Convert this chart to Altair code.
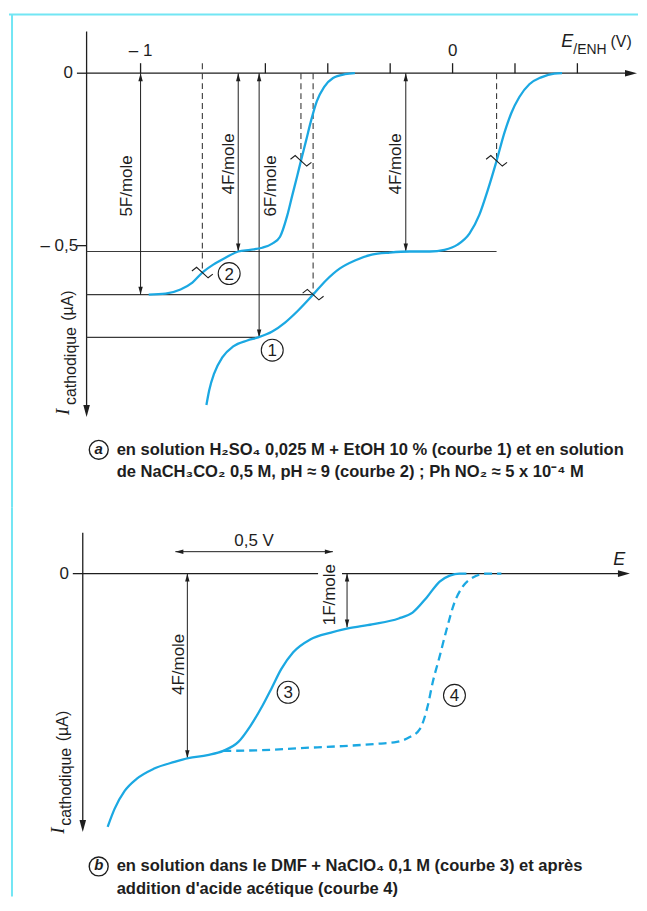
import altair as alt
import pandas as pd

# ======================= DATA =======================
# ---- Panel (a): E/ENH (V) vs cathodic current I (µA, drawn downward) ----
curve1_E = [-0.789, -0.780, -0.764, -0.738, -0.703, -0.658, -0.623, -0.578, -0.537, -0.495,
            -0.447, -0.406, -0.361, -0.313, -0.259, -0.201, -0.137, -0.073, -0.026, 0.016,
            0.054, 0.086, 0.112, 0.141, 0.166, 0.188, 0.214, 0.246, 0.284, 0.326, 0.351]
curve1_I = [-0.962, -0.919, -0.870, -0.824, -0.792, -0.775, -0.766, -0.749, -0.723, -0.688,
            -0.642, -0.601, -0.566, -0.543, -0.526, -0.520, -0.517, -0.517, -0.512, -0.497,
            -0.465, -0.410, -0.341, -0.254, -0.173, -0.116, -0.069, -0.032, -0.012, -0.001, 0.0]
curve2_E = [-0.974, -0.920, -0.872, -0.834, -0.802, -0.767, -0.728, -0.687, -0.649, -0.610,
            -0.578, -0.553, -0.530, -0.514, -0.498, -0.486, -0.470, -0.454, -0.435, -0.412,
            -0.383, -0.345, -0.313]
curve2_I = [-0.642, -0.639, -0.627, -0.607, -0.578, -0.555, -0.535, -0.517, -0.512, -0.506,
            -0.494, -0.474, -0.413, -0.355, -0.298, -0.254, -0.197, -0.139, -0.081, -0.040,
            -0.014, -0.003, 0.0]

a_axis_E = -1.173                      # position of the current axis
a_tick_E = [-1.0, -0.6, -0.4, -0.2, 0.0, 0.2, 0.4]
a_tick_labels = ["– 1", "0"]
a_tick_label_E = [-1.0, 0.0]
a_ytick_I = [0.0, -0.5]
a_ytick_labels = ["0", "– 0,5"]

a_arrow_E = [-1.0, -0.687, -0.620, -0.150]
a_arrow_I = [-0.642, -0.517, -0.766, -0.517]
a_arrow_txt = ["5F/mole", "4F/mole", "6F/mole", "4F/mole"]
a_arrow_txt_E = [-1.042, -0.716, -0.581, -0.182]
a_arrow_txt_I = [-0.327, -0.263, -0.327, -0.263]

a_half_E = [-0.802, -0.486, -0.447, 0.141]       # half-wave potentials (dashed)
a_half_I = [-0.578, -0.254, -0.642, -0.254]
a_half_top = [0.029, 0.0, 0.0, 0.0]

a_level_I = [-0.517, -0.642, -0.766]             # plateau levels
a_level_end_E = [0.141, -0.447, -0.623]

a_curve_lbl = ["2", "1"]
a_curve_lbl_E = [-0.716, -0.578]
a_curve_lbl_I = [-0.581, -0.803]

caption_a = ["en solution H₂SO₄ 0,025 M + EtOH 10 % (courbe 1) et en solution",
             "de NaCH₃CO₂ 0,5 M, pH ≈ 9 (courbe 2) ; Ph NO₂ ≈ 5 x 10⁻⁴ M"]

# ---- Panel (b): E (relative, V) vs cathodic current ----
curve3_E = [0.079, 0.101, 0.133, 0.171, 0.225, 0.291, 0.335, 0.396, 0.446, 0.494, 0.532, 0.570,
            0.598, 0.630, 0.668, 0.722, 0.788, 0.842, 0.918, 1.003, 1.047, 1.092, 1.133, 1.165,
            1.196, 1.218]
curve3_I = [-0.734, -0.682, -0.630, -0.595, -0.566, -0.546, -0.535, -0.526, -0.514, -0.488, -0.442,
            -0.384, -0.335, -0.277, -0.228, -0.191, -0.171, -0.159, -0.147, -0.130, -0.113, -0.069,
            -0.023, -0.006, 0.0, 0.0]
curve4_E = [0.446, 0.563, 0.690, 0.826, 0.927, 0.997, 1.038, 1.070, 1.095, 1.111, 1.133, 1.155,
            1.180, 1.206, 1.237, 1.282, 1.329]
curve4_I = [-0.514, -0.512, -0.506, -0.500, -0.494, -0.488, -0.474, -0.451, -0.384, -0.315,
            -0.240, -0.162, -0.084, -0.038, -0.012, 0.0, 0.0]

b_arrow_E = [0.332, 0.839]
b_arrow_I = [-0.535, -0.156]
b_arrow_txt = ["4F/mole", "1F/mole"]
b_arrow_txt_E = [0.304, 0.785]
b_arrow_txt_I = [-0.263, -0.061]
b_span_E = [0.294, 0.794]       # the "0,5 V" span
b_span_I = 0.0636
b_curve_lbl = ["3", "4"]
b_curve_lbl_E = [0.652, 1.180]
b_curve_lbl_I = [-0.344, -0.353]

caption_b = ["en solution dans le DMF + NaClO₄ 0,1 M (courbe 3) et après",
             "addition d'acide acétique (courbe 4)"]

# ======================= STYLE =======================
CURVE = "#1ba8e2"
INK = "#1e1e1e"
GRAY = "#3a3a3a"
CYAN = "#72e6f4"
FONT = "Liberation Sans, Arial, Helvetica, sans-serif"
SERIF = "Liberation Serif, Times New Roman, serif"
HEAD = "M0,0 L-0.55,2 L0.55,2 Z"          # arrow head pointing up, tip at origin
ZIGZAG = "M-1,-0.15 L-0.55,-0.5 L0.55,0.5 L1,0.15"

W = 631
HA, HB = 500, 390
xa = alt.Scale(domain=[-1.4217, 0.59427], nice=False, zero=False)
ya = alt.Scale(domain=[-1.26012, 0.18497], nice=False, zero=False)
xb = alt.Scale(domain=[-0.23418, 1.76266], nice=False, zero=False)
yb = alt.Scale(domain=[-0.93642, 0.19075], nice=False, zero=False)


def X(sc):
    return alt.X("x:Q", scale=sc, axis=None)


def Y(sc):
    return alt.Y("y:Q", scale=sc, axis=None)


def segs(x0, y0, x1, y1, xs, ys, **kw):
    df = pd.DataFrame({"x": x0, "y": y0, "xe": x1, "ye": y1})
    return alt.Chart(df).mark_rule(**kw).encode(x=X(xs), y=Y(ys), x2="xe:Q", y2="ye:Q")


def pts(xv, yv, xs, ys, shape, size, filled, ang=None, **kw):
    df = pd.DataFrame({"x": xv, "y": yv, "a": ang if ang is not None else [0] * len(xv)})
    return alt.Chart(df).mark_point(shape=shape, size=size, filled=filled, opacity=1, **kw).encode(
        x=X(xs), y=Y(ys), angle=alt.Angle("a:Q", scale=None))


def texts(xv, yv, tv, xs, ys, **kw):
    df = pd.DataFrame({"x": xv, "y": yv, "t": tv})
    return alt.Chart(df).mark_text(**kw).encode(x=X(xs), y=Y(ys), text="t:N")


def curve(xv, yv, xs, ys, **kw):
    df = pd.DataFrame({"x": xv, "y": yv})
    return alt.Chart(df).mark_line(interpolate="monotone", **kw).encode(x=X(xs), y=Y(ys))


def arrows_v(xv, y_top, y_bot, xs, ys):
    n = len(xv)
    return [
        segs(xv, [y_top] * n, xv, y_bot, xs, ys, color=INK, strokeWidth=1),
        pts(xv, [y_top] * n, xs, ys, HEAD, 64, True, [0] * n, color=INK, strokeWidth=0),
        pts(xv, y_bot, xs, ys, HEAD, 64, True, [180] * n, color=INK, strokeWidth=0),
    ]


# ======================= PANEL A =======================
la = []
la.append(segs([-1.4217, -1.412], [0.1705, 0.1705], [0.59427, -1.412], [0.1705, -1.26012],
               xa, ya, color=CYAN, strokeWidth=2))
# axes
la.append(segs([a_axis_E, a_axis_E], [0.0, 0.121], [0.559, a_axis_E], [0.0, -0.967],
               xa, ya, color=INK, strokeWidth=1.3))
la.append(pts([0.591, a_axis_E], [0.0, -0.997], xa, ya, HEAD, 144, True, [90, 180],
              color=INK, strokeWidth=0))
la.append(segs(a_tick_E, [0.0] * len(a_tick_E), a_tick_E, [0.029] * len(a_tick_E),
               xa, ya, color=INK, strokeWidth=1.3))
la.append(segs([-1.204] * 2, a_ytick_I, [a_axis_E] * 2, a_ytick_I, xa, ya, color=INK, strokeWidth=1.3))
la.append(texts(a_tick_label_E, [0.064] * 2, a_tick_labels, xa, ya, font=FONT, fontSize=17,
                color=INK, align="center", baseline="middle"))
la.append(texts([-1.217, -1.200], a_ytick_I, a_ytick_labels, xa, ya, font=FONT, fontSize=17,
                color=INK, align="right", baseline="middle"))
# axis titles
la.append(texts([0.348], [0.075], ["E"], xa, ya, font=FONT, fontSize=18, fontStyle="italic",
                color=INK, align="left", baseline="alphabetic"))
la.append(texts([0.387], [0.056], ["/ENH"], xa, ya, font=FONT, fontSize=14, color=INK,
                align="left", baseline="alphabetic"))
la.append(texts([0.506], [0.075], ["(V)"], xa, ya, font=FONT, fontSize=16, color=INK,
                align="left", baseline="alphabetic"))
la.append(texts([-1.230], [-0.991], ["I"], xa, ya, font=SERIF, fontSize=19, fontStyle="italic",
                color=INK, align="left", baseline="alphabetic", angle=270))
la.append(texts([-1.208], [-0.962], ["cathodique"], xa, ya, font=FONT, fontSize=16, color=INK,
                align="left", baseline="alphabetic", angle=270))
la.append(texts([-1.218], [-0.718], ["(µA)"], xa, ya, font=FONT, fontSize=16, color=INK,
                align="left", baseline="alphabetic", angle=270))
# plateau levels and half-wave lines
la.append(segs([a_axis_E] * 3, a_level_I, a_level_end_E, a_level_I, xa, ya, color=GRAY, strokeWidth=1.1))
la.append(segs(a_half_E, a_half_top, a_half_E, a_half_I, xa, ya, color=GRAY, strokeWidth=1.1,
               strokeDash=[6, 4]))
la += arrows_v(a_arrow_E, 0.0, a_arrow_I, xa, ya)
la.append(texts(a_arrow_txt_E, a_arrow_txt_I, a_arrow_txt, xa, ya, font=FONT, fontSize=17,
                color=INK, align="center", baseline="middle", angle=270))
# curves
la.append(curve(curve1_E, curve1_I, xa, ya, color=CURVE, strokeWidth=2.3))
la.append(curve(curve2_E, curve2_I, xa, ya, color=CURVE, strokeWidth=2.3))
la.append(pts(a_half_E, a_half_I, xa, ya, ZIGZAG, 441, False, color=INK, strokeWidth=1.1))
la.append(pts(a_curve_lbl_E, a_curve_lbl_I, xa, ya, "circle", 484, False, color=INK, strokeWidth=1.1))
la.append(texts(a_curve_lbl_E, a_curve_lbl_I, a_curve_lbl, xa, ya, font=FONT, fontSize=17,
                color=INK, align="center", baseline="middle", dy=1))
# caption
la.append(pts([-1.134], [-1.092], xa, ya, "circle", 361, False, color=INK, strokeWidth=1.4))
la.append(texts([-1.134], [-1.092], ["a"], xa, ya, font=FONT, fontSize=15, fontWeight="bold",
                fontStyle="italic", color=INK, align="center", baseline="middle", dy=-1))
la.append(texts([-1.0767, -1.0767], [-1.092, -1.156], caption_a, xa, ya, font=FONT, fontSize=16.6,
                fontWeight="bold", color=INK, align="left", baseline="middle", limit=520))

panel_a = alt.layer(*la).properties(width=W, height=HA)

# ======================= PANEL B =======================
lb = []
lb.append(segs([-0.2247], [0.19075], [-0.2247], [-0.93642], xb, yb, color=CYAN, strokeWidth=2))
lb.append(segs([0.0, 0.0, 0.823], [0.1185, 0.0, 0.0], [0.0, 0.747, 1.703], [-0.717, 0.0, 0.0],
               xb, yb, color=INK, strokeWidth=1.3))
lb.append(pts([1.737, 0.0], [0.0, -0.749], xb, yb, HEAD, 144, True, [90, 180], color=INK, strokeWidth=0))
lb.append(segs([-0.0316], [0.0], [0.0], [0.0], xb, yb, color=INK, strokeWidth=1.3))
lb.append(texts([-0.044], [0.0], ["0"], xb, yb, font=FONT, fontSize=17, color=INK,
                align="right", baseline="middle"))
lb.append(texts([1.703], [0.026], ["E"], xb, yb, font=FONT, fontSize=18, fontStyle="italic",
                color=INK, align="center", baseline="alphabetic"))
lb.append(texts([-0.060], [-0.754], ["I"], xb, yb, font=SERIF, fontSize=19, fontStyle="italic",
                color=INK, align="left", baseline="alphabetic", angle=270))
lb.append(texts([-0.038], [-0.731], ["cathodique"], xb, yb, font=FONT, fontSize=16, color=INK,
                align="left", baseline="alphabetic", angle=270))
lb.append(texts([-0.048], [-0.486], ["(µA)"], xb, yb, font=FONT, fontSize=16, color=INK,
                align="left", baseline="alphabetic", angle=270))
# 0,5 V span
lb.append(segs([b_span_E[0]], [b_span_I], [b_span_E[1]], [b_span_I], xb, yb, color=INK, strokeWidth=1))
lb.append(pts(b_span_E, [b_span_I] * 2, xb, yb, HEAD, 64, True, [270, 90], color=INK, strokeWidth=0))
lb.append(texts([sum(b_span_E) / 2], [0.0954], ["0,5 V"], xb, yb, font=FONT, fontSize=17,
                color=INK, align="center", baseline="middle"))
lb += arrows_v(b_arrow_E, 0.0, b_arrow_I, xb, yb)
lb.append(texts(b_arrow_txt_E, b_arrow_txt_I, b_arrow_txt, xb, yb, font=FONT, fontSize=17,
                color=INK, align="center", baseline="middle", angle=270))
lb.append(curve(curve4_E, curve4_I, xb, yb, color=CURVE, strokeWidth=2.3, strokeDash=[8, 5]))
lb.append(curve(curve3_E, curve3_I, xb, yb, color=CURVE, strokeWidth=2.3))
lb.append(pts(b_curve_lbl_E, b_curve_lbl_I, xb, yb, "circle", 484, False, color=INK, strokeWidth=1.1))
lb.append(texts(b_curve_lbl_E, b_curve_lbl_I, b_curve_lbl, xb, yb, font=FONT, fontSize=17,
                color=INK, align="center", baseline="middle", dy=1))
# caption
lb.append(pts([0.0506], [-0.849], xb, yb, "circle", 361, False, color=INK, strokeWidth=1.4))
lb.append(texts([0.0506], [-0.849], ["b"], xb, yb, font=FONT, fontSize=15, fontWeight="bold",
                fontStyle="italic", color=INK, align="center", baseline="middle", dy=-1))
lb.append(texts([0.1076, 0.1076], [-0.849, -0.913], caption_b, xb, yb, font=FONT, fontSize=16.6,
                fontWeight="bold", color=INK, align="left", baseline="middle", limit=520))

panel_b = alt.layer(*lb).properties(width=W, height=HB)

chart = alt.vconcat(panel_a, panel_b, spacing=0, bounds="flush").properties(
    padding=0, background="white"
).configure_view(stroke=None)

chart.save("out.html", embed_options={"renderer": "svg", "actions": False})
